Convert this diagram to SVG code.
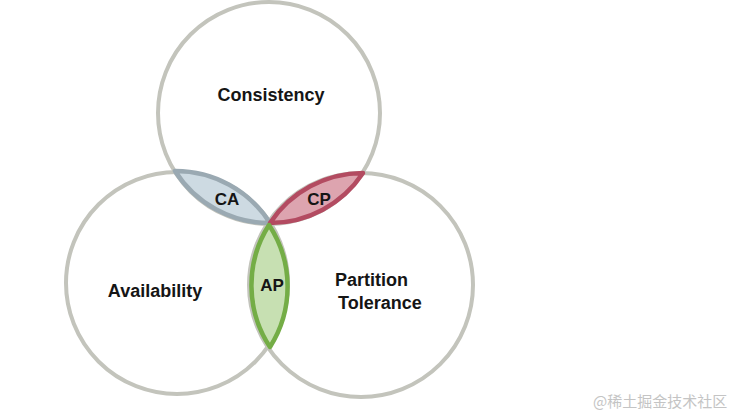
<svg xmlns="http://www.w3.org/2000/svg" width="739" height="413" viewBox="0 0 739 413">
<style>
.circle{fill:none;stroke:#c3c4bc;stroke-width:4}
.lbl{font-family:"Liberation Sans",Arial,sans-serif;font-weight:bold;fill:#151515;font-size:18px}
.small{font-size:17px;text-anchor:middle}
.lens{stroke-width:4.5;stroke-linejoin:round}
</style>
<rect width="739" height="413" fill="#ffffff"/>
<g id="sets">
<g id="consistency"><circle class="circle" cx="269" cy="113" r="111"/></g>
<g id="availability"><circle class="circle" cx="177" cy="283" r="111"/></g>
<g id="partition"><circle class="circle" cx="361" cy="285" r="112"/></g>
</g>
<g id="ca"><path class="lens" fill="#cddae2" stroke="#9aa9b2" d="M175,171 A112,112 0 0,1 270,223 A112,112 0 0,1 175,171 Z"/></g>
<g id="cp"><path class="lens" fill="#dda4af" stroke="#b34b61" d="M270,223 A112,112 0 0,1 363,173 A112,112 0 0,1 270,223 Z"/></g>
<g id="ap"><path class="lens" fill="#c7e0b2" stroke="#74ad46" d="M269,225 A112,112 0 0,1 270,347 A112,112 0 0,1 269,225 Z"/></g>
<g id="labels">
<text class="lbl" x="271" y="101" text-anchor="middle">Consistency</text>
<text class="lbl small" x="227" y="205">CA</text>
<text class="lbl small" x="319" y="205">CP</text>
<text class="lbl small" x="272" y="291">AP</text>
<text class="lbl" x="155" y="297" text-anchor="middle">Availability</text>
<text class="lbl" x="335" y="286">Partition</text>
<text class="lbl" x="338" y="309">Tolerance</text>
</g>
<text x="593" y="407" font-family="'Noto Sans CJK SC',sans-serif" font-size="15" fill="#c4c4c4">@稀土掘金技术社区</text>
</svg>
